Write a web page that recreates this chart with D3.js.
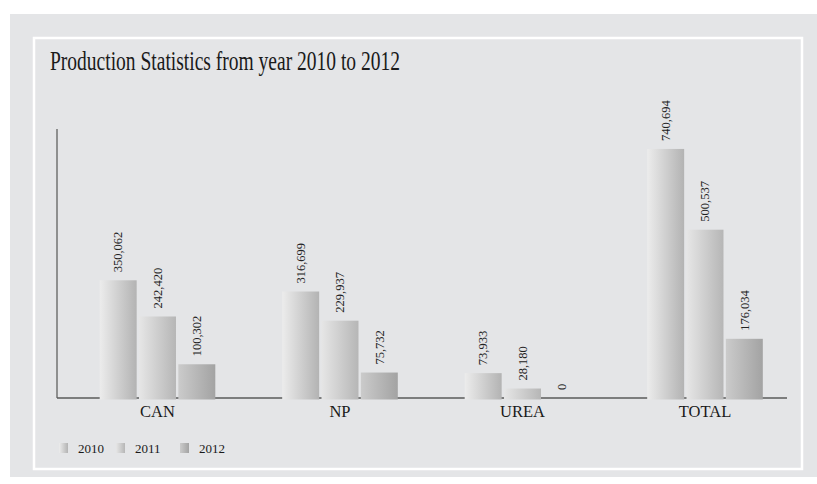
<!DOCTYPE html>
<html>
<head>
<meta charset="utf-8">
<script src="https://cdn.jsdelivr.net/npm/d3@7"></script>
<style>
  html, body { margin: 0; padding: 0; background: #ffffff; }
  svg { display: block; }
</style>
</head>
<body>
<svg id="chart" width="817" height="484"></svg>
<script>
const title = "Production Statistics from year 2010 to 2012";
const categories = ["CAN", "NP", "UREA", "TOTAL"];
const seriesNames = ["2010", "2011", "2012"];
const values2010 = [350062, 316699, 73933, 740694];
const values2011 = [242420, 229937, 28180, 500537];
const values2012 = [100302, 75732, 0, 176034];
const yMax = 800000;

(function () {
const seriesValues = [values2010, values2011, values2012];
const gradStops = [
  ["#ececec", "#b3b3b3"],
  ["#e6e6e6", "#b6b6b6"],
  ["#cbcbcb", "#a3a3a3"]
];

const svg = d3.select("#chart");
const font = "'Liberation Serif', 'Times New Roman', serif";

// backgrounds
svg.append("rect").attr("x", 10).attr("y", 14).attr("width", 807).attr("height", 463).attr("fill", "#e4e5e7");
svg.append("rect").attr("x", 34).attr("y", 38).attr("width", 768).attr("height", 431)
  .attr("fill", "#e4e5e7").attr("stroke", "#ffffff").attr("stroke-width", 2.5);

// gradients
const defs = svg.append("defs");
gradStops.forEach((g, i) => {
  const lg = defs.append("linearGradient").attr("id", "g" + i)
    .attr("x1", "0%").attr("x2", "100%").attr("y1", "0%").attr("y2", "0%");
  lg.append("stop").attr("offset", "0%").attr("stop-color", g[0]);
  lg.append("stop").attr("offset", "100%").attr("stop-color", g[1]);
});

// title
svg.append("text").attr("x", 50).attr("y", 70)
  .attr("font-family", font).attr("font-size", 26.5).attr("fill", "#1a1a1a")
  .attr("textLength", 350).attr("lengthAdjust", "spacingAndGlyphs")
  .text(title);

const plotLeft = 57, plotRight = 787, plotBase = 398, plotTop = 129;
const x0 = d3.scaleBand().domain(categories).range([66.25, 796.25]).paddingInner(0).paddingOuter(0);
const groupW = 115.6;
const x1 = d3.scaleBand().domain(seriesNames).range([0, groupW]).paddingInner(0.06).paddingOuter(0);
const y = d3.scaleLinear().domain([0, yMax]).range([plotBase, plotTop]);

// axes lines
svg.append("line").attr("x1", plotLeft).attr("x2", plotLeft).attr("y1", plotTop).attr("y2", plotBase)
  .attr("stroke", "#555").attr("stroke-width", 1.2);
svg.append("line").attr("x1", plotLeft).attr("x2", plotRight).attr("y1", plotBase).attr("y2", plotBase)
  .attr("stroke", "#5a5a5a").attr("stroke-width", 1.5);

// bars
categories.forEach((c, ci) => {
  const gx = x0(c) + (x0.bandwidth() - groupW) / 2;
  seriesNames.forEach((s, si) => {
    const v = seriesValues[si][ci];
    const bx = gx + x1(s);
    const bw = x1.bandwidth();
    if (v > 0) {
      svg.append("rect").attr("x", bx).attr("y", y(v)).attr("width", bw)
        .attr("height", plotBase + 1.5 - y(v)).attr("fill", `url(#g${si})`);
    }
    const cx = bx + bw / 2 + 4.3;
    const ty = y(v) - 8;
    svg.append("text")
      .attr("transform", `translate(${cx},${ty}) rotate(-90)`)
      .attr("font-family", font).attr("font-size", 12.5).attr("fill", "#222")
      .text(d3.format(",")(v));
  });
  svg.append("text").attr("x", x0(c) + x0.bandwidth() / 2).attr("y", 417)
    .attr("text-anchor", "middle").attr("font-family", font).attr("font-size", 16.5)
    .attr("fill", "#1a1a1a").text(c);
});

// legend
const legendX = [59, 116, 180];
seriesNames.forEach((s, i) => {
  svg.append("rect").attr("x", legendX[i]).attr("y", 443).attr("width", 9).attr("height", 10)
    .attr("fill", `url(#g${i})`);
  svg.append("text").attr("x", legendX[i] + 19).attr("y", 453)
    .attr("font-family", font).attr("font-size", 13).attr("fill", "#1a1a1a").text(s);
});
})();
</script>
</body>
</html>
